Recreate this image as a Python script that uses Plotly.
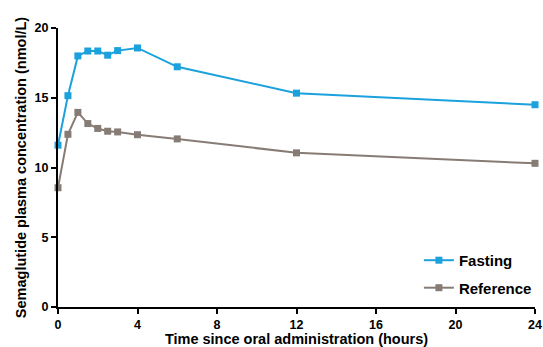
import plotly.graph_objects as go

time_h = [0, 0.5, 1, 1.5, 2, 2.5, 3, 4, 6, 12, 24]
fasting = [11.6, 15.15, 18.0, 18.35, 18.35, 18.05, 18.38, 18.57, 17.22, 15.33, 14.5]
reference = [8.55, 12.38, 13.95, 13.15, 12.8, 12.6, 12.55, 12.35, 12.05, 11.05, 10.3]
x_ticks = [0, 4, 8, 12, 16, 20, 24]
y_ticks = [0, 5, 10, 15, 20]

FONT = "Arial, Liberation Sans"

fig = go.Figure()
fig.add_trace(go.Scatter(x=time_h, y=fasting, name="Fasting", mode="lines+markers",
                         legendgroup="f",
                         line=dict(color="#1BA1DC", width=2),
                         marker=dict(symbol="square", size=7, color="#1BA1DC"),
                         cliponaxis=False))
fig.add_trace(go.Scatter(x=time_h, y=reference, name="Reference", mode="lines+markers",
                         legendgroup="r",
                         line=dict(color="#877C75", width=2),
                         marker=dict(symbol="square", size=7, color="#877C75"),
                         cliponaxis=False))

axis_common = dict(showline=True, linecolor="black", linewidth=2, ticks="outside",
                   ticklen=5, tickwidth=2, tickcolor="black", showgrid=False, zeroline=False,
                   automargin=False, ticklabeloverflow="allow",
                   tickfont=dict(family=FONT, size=12.5, color="black", weight="bold"))
fig.update_xaxes(range=[0, 24], tickvals=x_ticks, **axis_common,
                 title=dict(text="Time since oral administration (hours)", standoff=3,
                            font=dict(family=FONT, size=14.5, color="black", weight="bold")))
fig.update_yaxes(range=[0, 20], tickvals=y_ticks, **axis_common,
                 title=dict(text="Semaglutide plasma concentration (nmol/L)", standoff=5,
                            font=dict(family=FONT, size=14.5, color="black", weight="bold")))
fig.update_layout(width=543, height=347, plot_bgcolor="white", paper_bgcolor="white",
                  margin=dict(l=58, r=7, t=28, b=40),
                  legend=dict(x=0.755, xanchor="left", y=0.226, yanchor="top",
                              font=dict(family=FONT, size=15, color="black", weight="bold"),
                              itemwidth=30, tracegroupgap=5, bgcolor="rgba(0,0,0,0)"))
fig.write_html("out.html", config={"displayModeBar": False},
               post_script="document.body.style.margin='0';")
